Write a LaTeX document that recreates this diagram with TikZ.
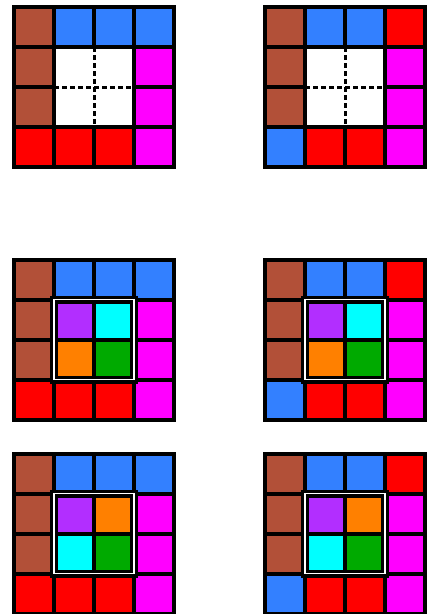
\documentclass[tikz,border=0pt]{standalone}
\usepackage{xcolor}
\usepackage{tikz}

\definecolor{brick}{RGB}{178,80,56}
\definecolor{sky}{RGB}{51,128,255}
\definecolor{grape}{RGB}{178,46,255}
\definecolor{tangerine}{RGB}{255,128,0}
\definecolor{leaf}{RGB}{0,170,0}
\definecolor{fuchsia}{RGB}{255,0,255}
\definecolor{aqua}{RGB}{0,255,255}
\definecolor{scarlet}{RGB}{255,0,0}

\begin{document}
\begin{tikzpicture}[x=1pt,y=-1pt,line width=4pt,
    gridline/.style={draw=black,line width=4pt},
    innerframe/.style={draw=black,line width=8pt},
    innerglow/.style={draw=white,line width=1.5pt},
    splitline/.style={draw=black,line width=3pt,dash pattern=on 5pt off 3pt}]
  \useasboundingbox (0,0) rectangle (430,614);
  % outer ring of every board
  \foreach \gx/\gy/\tr/\bl in {14/7/sky/scarlet,265/7/scarlet/sky,14/259.5/sky/scarlet,265/259.5/scarlet/sky,14/453.7/sky/scarlet,265/453.7/scarlet/sky}{
    \begin{scope}[shift={(\gx,\gy)},x=40pt,y=-40pt]
      \fill[brick] (0,0) rectangle ++(1,1);
      \fill[sky] (1,0) rectangle ++(1,1);
      \fill[sky] (2,0) rectangle ++(1,1);
      \fill[\tr] (3,0) rectangle ++(1,1);
      \foreach \r in {1,2} {
        \fill[brick] (0,\r) rectangle ++(1,1);
        \fill[fuchsia] (3,\r) rectangle ++(1,1);
      }
      \fill[\bl] (0,3) rectangle ++(1,1);
      \fill[scarlet] (1,3) rectangle ++(1,1);
      \fill[scarlet] (2,3) rectangle ++(1,1);
      \fill[fuchsia] (3,3) rectangle ++(1,1);
      \foreach \k in {1,2,3} {
        \draw[gridline] (\k,0) -- (\k,4);
        \draw[gridline] (0,\k) -- (4,\k);
      }
      \draw[gridline,line join=miter] (0,0) rectangle (4,4);
    \end{scope}
  }
  % empty middle, split by dashes
  \foreach \gx/\gy in {14/7,265/7}{
    \begin{scope}[shift={(\gx,\gy)},x=40pt,y=-40pt]
      \fill[white] (1,1) rectangle (3,3);
      \draw[gridline,line join=miter] (1,1) rectangle (3,3);
      \draw[splitline] (2,1) -- (2,3);
      \draw[splitline] (1,2) -- (3,2);
    \end{scope}
  }
  % filled middle
  \foreach \gx/\gy/\ca/\cb/\cc/\cd in {14/259.5/grape/aqua/tangerine/leaf,265/259.5/grape/aqua/tangerine/leaf,14/453.7/grape/tangerine/aqua/leaf,265/453.7/grape/tangerine/aqua/leaf}{
    \begin{scope}[shift={(\gx,\gy)},x=40pt,y=-40pt]
      \fill[\ca] (1,1) rectangle ++(1,1);
      \fill[\cb] (2,1) rectangle ++(1,1);
      \fill[\cc] (1,2) rectangle ++(1,1);
      \fill[\cd] (2,2) rectangle ++(1,1);
      \draw[gridline] (2,1) -- (2,3);
      \draw[gridline] (1,2) -- (3,2);
      \draw[innerframe,line join=miter] (1,1) rectangle (3,3);
      \draw[innerglow] (1,1) rectangle (3,3);
    \end{scope}
  }
\end{tikzpicture}
\end{document}
